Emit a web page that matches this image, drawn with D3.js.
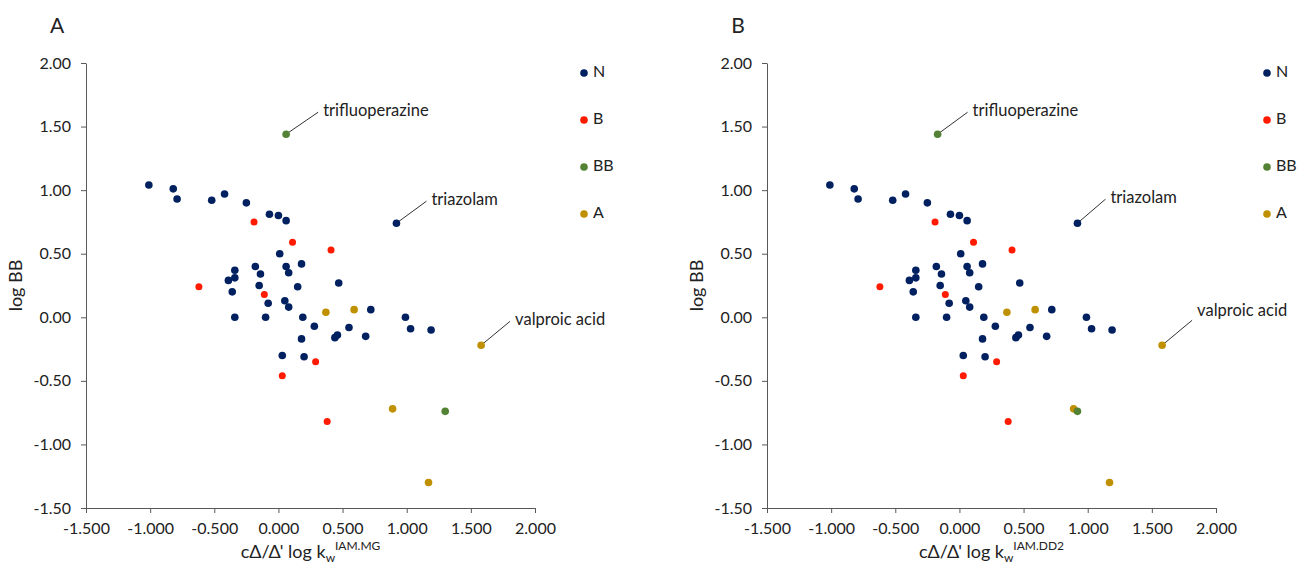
<!DOCTYPE html>
<html>
<head>
<meta charset="utf-8">
<script src="https://cdn.jsdelivr.net/npm/d3@7"></script>
<style>
  body { margin: 0; background: #fff; }
  svg text { font-family: Lato, "Open Sans", sans-serif; fill: #222; }
</style>
</head>
<body>
<div id="chart"></div>
<script>
// log BB against cΔ/Δ' log kw for two IAM columns (panel A: MG, panel B: DD2)

const groups = ['N', 'B', 'BB', 'A'];
const groupColor = { N: '#002060', B: '#FF1A00', BB: '#548235', A: '#BF9000' };

const logBB = [
  1.04, 1.01, 0.93, 0.92, 0.97, 0.90, 0.81, 0.80, 0.76, 0.75,
  0.59, 0.53, 0.50, 0.37, 0.40, 0.40, 0.42, 0.34, 0.35, 0.31,
  0.29, 0.24, 0.25, 0.24, 0.27, 0.20, 0.18, 0.11, 0.13, 0.08,
  0.04, 0.06, 0.06, 0.00, 0.00, 0.00, -0.07, -0.17, -0.16, -0.14,
  -0.08, -0.15, -0.30, -0.31, -0.35, -0.46, 0.00, -0.09, -0.10, -0.22,
  -0.82, -0.72, -0.74, 1.44, 0.74, -1.30
];
const cls = [
  'N', 'N', 'N', 'N', 'N', 'N', 'N', 'N', 'N', 'B',
  'B', 'B', 'N', 'N', 'N', 'N', 'N', 'N', 'N', 'N',
  'N', 'B', 'N', 'N', 'N', 'N', 'B', 'N', 'N', 'N',
  'A', 'A', 'N', 'N', 'N', 'N', 'N', 'N', 'N', 'N',
  'N', 'N', 'N', 'N', 'B', 'B', 'N', 'N', 'N', 'A',
  'B', 'A', 'BB', 'BB', 'N', 'A'
];
const kwMG = [
  -1.01, -0.82, -0.79, -0.52, -0.42, -0.25, -0.07, 0.00, 0.06, -0.19,
  0.11, 0.41, 0.01, -0.34, -0.18, 0.06, 0.18, -0.14, 0.08, -0.34,
  -0.39, -0.62, -0.15, 0.15, 0.47, -0.36, -0.11, -0.08, 0.05, 0.08,
  0.37, 0.59, 0.72, -0.34, -0.10, 0.19, 0.28, 0.18, 0.44, 0.46,
  0.55, 0.68, 0.03, 0.20, 0.29, 0.03, 0.99, 1.03, 1.19, 1.58,
  0.38, 0.89, 1.30, 0.06, 0.92, 1.17
];
const kwDD2 = [
  -1.01, -0.82, -0.79, -0.52, -0.42, -0.25, -0.07, 0.00, 0.06, -0.19,
  0.11, 0.41, 0.01, -0.34, -0.18, 0.06, 0.18, -0.14, 0.08, -0.34,
  -0.39, -0.62, -0.15, 0.15, 0.47, -0.36, -0.11, -0.08, 0.05, 0.08,
  0.37, 0.59, 0.72, -0.34, -0.10, 0.19, 0.28, 0.18, 0.44, 0.46,
  0.55, 0.68, 0.03, 0.20, 0.29, 0.03, 0.99, 1.03, 1.19, 1.58,
  0.38, 0.89, 0.92, -0.17, 0.92, 1.17
];
// labelled compounds: index into the arrays above
const named = [
  { i: 53, name: 'trifluoperazine' },
  { i: 54, name: 'triazolam' },
  { i: 49, name: 'valproic acid' }
];

const xTicks = [-1.5, -1.0, -0.5, 0.0, 0.5, 1.0, 1.5, 2.0];
const yTicks = [-1.5, -1.0, -0.5, 0.0, 0.5, 1.0, 1.5, 2.0];

// excel-style labels: plain hyphen instead of d3's unicode minus
const fmt3 = v => d3.format('.3f')(v).replace('\u2212', '-');
const fmt2 = v => d3.format('.2f')(v).replace('\u2212', '-');

const W = 1298, H = 567;
const svg = d3.select('#chart').append('svg')
  .attr('width', W).attr('height', H);

function panel(opts) {
  const { left, letter, xs, sup, notes, legendX } = opts;
  const top = 63, innerW = 449, innerH = 445;
  const g = svg.append('g').attr('transform', `translate(${left},${top})`);

  const x = d3.scaleLinear().domain([-1.5, 2.0]).range([0, innerW]);
  const y = d3.scaleLinear().domain([-1.5, 2.0]).range([innerH, 0]);

  const xAxis = g.append('g').attr('transform', `translate(0,${innerH})`)
    .call(d3.axisBottom(x).tickValues(xTicks).tickFormat(fmt3).tickSize(5).tickSizeOuter(0));
  const yAxis = g.append('g')
    .call(d3.axisLeft(y).tickValues(yTicks).tickFormat(fmt2).tickSize(5).tickSizeOuter(0));
  [xAxis, yAxis].forEach(a => {
    a.select('.domain').attr('stroke', '#595959');
    a.selectAll('.tick line').attr('stroke', '#595959');
    a.selectAll('.tick text').attr('font-size', 16).attr('fill', '#222');
  });
  xAxis.selectAll('.tick text').attr('dy', '1.15em');
  yAxis.selectAll('.tick text').attr('x', -15);

  // panel letter
  svg.append('text').attr('x', left - 29).attr('y', 33)
    .attr('font-size', 21).attr('text-anchor', 'middle').text(letter);

  // axis titles
  g.append('text').attr('transform', 'rotate(-90)')
    .attr('x', -innerH / 2).attr('y', -64)
    .attr('text-anchor', 'middle').attr('font-size', 18).text('log BB');
  const xt = g.append('text').attr('x', innerW / 2).attr('y', innerH + 50)
    .attr('text-anchor', 'middle').attr('font-size', 18);
  xt.append('tspan').text('cΔ/Δ\' log k');
  xt.append('tspan').attr('font-size', 12).attr('dy', 4).text('w');
  xt.append('tspan').attr('font-size', 12).attr('dy', -12).text(sup);

  // leader lines behind points
  notes.forEach(n => {
    const px = x(xs[n.i]), py = y(logBB[n.i]);
    g.append('line')
      .attr('x1', px).attr('y1', py)
      .attr('x2', px + n.dx).attr('y2', py + n.dy)
      .attr('stroke', '#333').attr('stroke-width', 1);
    g.append('text')
      .attr('x', px + n.dx + 5).attr('y', py + n.dy + n.ty)
      .attr('dominant-baseline', 'middle').attr('font-size', 16.5)
      .attr('fill', n.color || '#222').text(n.name);
  });

  g.append('g').selectAll('circle')
    .data(logBB.map((v, i) => i))
    .join('circle')
      .attr('cx', i => x(xs[i]))
      .attr('cy', i => y(logBB[i]))
      .attr('r', i => cls[i] === 'B' ? 3.5 : 3.8)
      .attr('fill', i => groupColor[cls[i]]);

  // legend
  const lg = svg.append('g').attr('transform', `translate(${legendX},73)`);
  groups.forEach((k, j) => {
    lg.append('circle').attr('cx', 0).attr('cy', j * 47).attr('r', 3.8).attr('fill', groupColor[k]);
    lg.append('text').attr('x', 9).attr('y', j * 47).attr('dominant-baseline', 'middle')
      .attr('font-size', 16).text(k);
  });
}

panel({
  left: 86, letter: 'A', xs: kwMG, sup: 'IAM.MG', legendX: 584,
  notes: [
    { ...named[0], dx: 32, dy: -22, ty: 0 },
    { ...named[1], dx: 30, dy: -22, ty: 0 },
    { ...named[2], dx: 29, dy: -24, ty: 0 }
  ]
});
panel({
  left: 767, letter: 'B', xs: kwDD2, sup: 'IAM.DD2', legendX: 1267,
  notes: [
    { ...named[0], dx: 30, dy: -22, ty: 0 },
    { ...named[1], dx: 28, dy: -24, ty: 0, color: '#595959' },
    { ...named[2], dx: 30, dy: -25, ty: -8 }
  ]
});
</script>
</body>
</html>
